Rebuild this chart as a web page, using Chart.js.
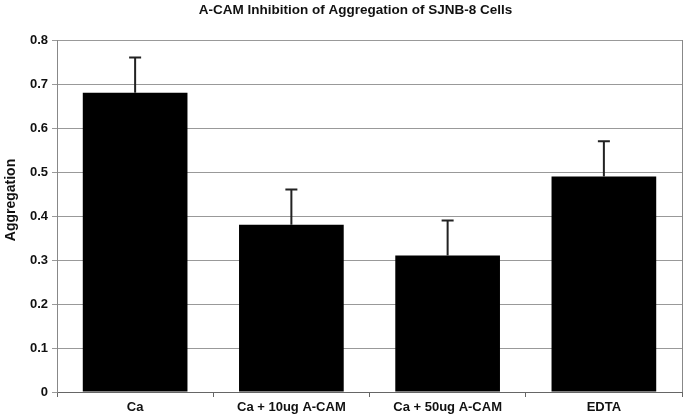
<!DOCTYPE html>
<html lang="en">
  <head>
    <meta charset="UTF-8" />
    <title>A-CAM Inhibition of Aggregation</title>
    <script src="https://cdn.jsdelivr.net/npm/chart.js"></script>
    <style>
      html, body { margin: 0; padding: 0; background: #fff; }
      #wrap { width: 685px; height: 415px; position: relative; }
    </style>
  </head>
  <body>
    <div id="wrap"><canvas id="aggChart"></canvas></div>

    <script>
      const categories = ["Ca", "Ca + 10ug A-CAM", "Ca + 50ug A-CAM", "EDTA"];
      const aggregation = [0.68, 0.38, 0.31, 0.49];
      const errors = [0.08, 0.08, 0.08, 0.08];
      const yTicks = [0, 0.1, 0.2, 0.3, 0.4, 0.5, 0.6, 0.7, 0.8];

      const font = "'Liberation Sans', Arial, sans-serif";
      const chartTitle = "A-CAM Inhibition of Aggregation of SJNB-8 Cells";

      // upward-only error bars, right border of the frame, titles
      const errorBars = {
        id: "errorBars",
        afterDatasetsDraw(chart) {
          const ctx = chart.ctx;
          const y = chart.scales.y;
          const meta = chart.getDatasetMeta(0);
          ctx.save();
          ctx.strokeStyle = "#222";
          ctx.lineWidth = 2;
          meta.data.forEach((bar, i) => {
            const top = y.getPixelForValue(aggregation[i] + errors[i]);
            const base = y.getPixelForValue(aggregation[i]);
            ctx.beginPath();
            ctx.moveTo(bar.x, base);
            ctx.lineTo(bar.x, top);
            ctx.moveTo(bar.x - 6, top);
            ctx.lineTo(bar.x + 6, top);
            ctx.stroke();
          });
          const a = chart.chartArea;
          ctx.strokeStyle = "#888";
          ctx.lineWidth = 1;
          ctx.beginPath();
          ctx.moveTo(a.right + 0.5, a.top);
          ctx.lineTo(a.right + 0.5, a.bottom);
          ctx.stroke();

          // chart title, a little right of the page centre as in the original
          ctx.fillStyle = "#111";
          ctx.font = "bold 13.5px " + font;
          ctx.textAlign = "center";
          ctx.textBaseline = "middle";
          ctx.fillText(chartTitle, 355.5, 10.5);

          // axis title sits a bit above the middle of the axis
          ctx.translate(11, 200);
          ctx.rotate(-Math.PI / 2);
          ctx.font = "bold 14px " + font;
          ctx.fillText("Aggregation", 0, 0);
          ctx.restore();
        },
      };

      new Chart(document.getElementById("aggChart"), {
        type: "bar",
        data: {
          labels: categories,
          datasets: [
            {
              data: aggregation,
              backgroundColor: "#000",
              borderWidth: 0,
              categoryPercentage: 1,
              barPercentage: 0.67,
            },
          ],
        },
        options: {
          responsive: true,
          maintainAspectRatio: false,
          animation: false,
          layout: { padding: { left: 0, right: 3, top: 40, bottom: 0 } },
          plugins: {
            legend: { display: false },
            tooltip: { enabled: false },
          },
          scales: {
            x: {
              afterFit: (s) => { s.height = 23; },
              grid: {
                offset: true,
                drawOnChartArea: false,
                tickLength: 5,
                color: "#666",
              },
              border: { color: "#666" },
              ticks: {
                color: "#111",
                padding: 3,
                font: { family: font, size: 13, weight: "bold" },
              },
            },
            y: {
              min: 0,
              max: 0.8,
              afterFit: (s) => { s.width = 57; },
              afterBuildTicks: (s) => { s.ticks = yTicks.map((v) => ({ value: v })); },
              grid: { color: "#999", tickLength: 5 },
              border: { color: "#888" },
              ticks: {
                color: "#111",
                padding: 4,
                font: { family: font, size: 13, weight: "bold" },
                callback: (v) => (v === 0 ? "0" : v.toFixed(1)),
              },
            },
          },
        },
        plugins: [errorBars],
      });
    </script>
  </body>
</html>
